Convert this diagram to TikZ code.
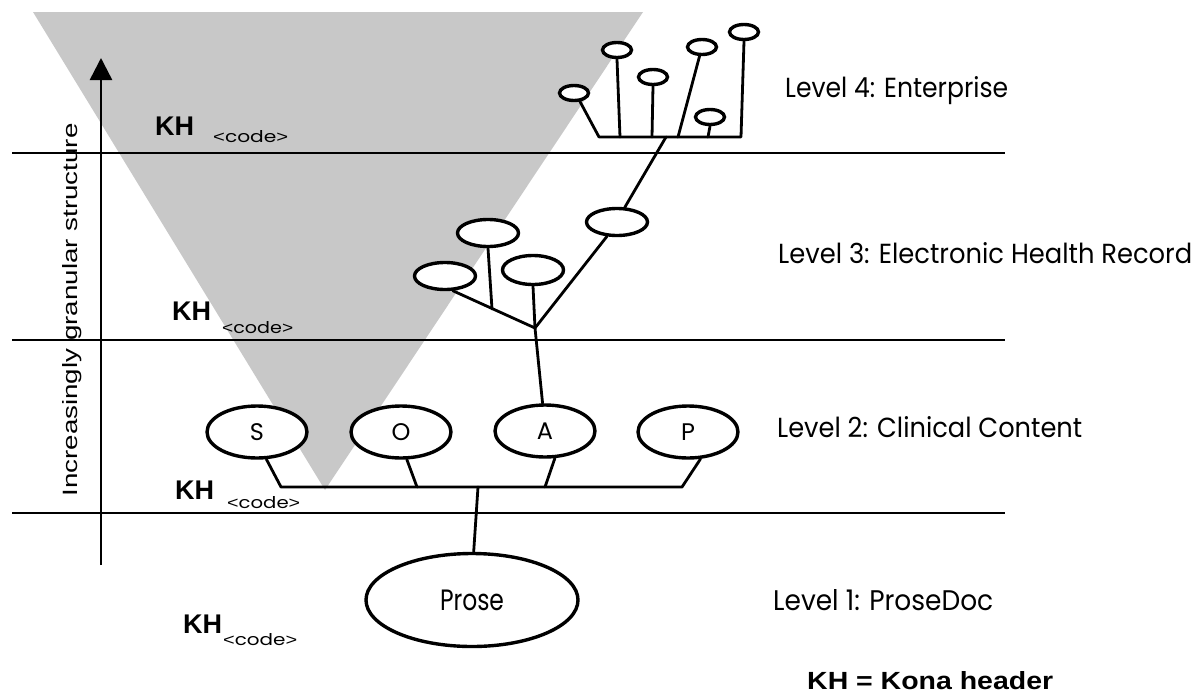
\documentclass[tikz,border=0pt]{standalone}
\usepackage{fontspec}
\setmainfont{Poppins}
\newfontfamily\arialfont{Liberation Sans}
\usetikzlibrary{shapes.geometric,arrows.meta}
\definecolor{trigray}{RGB}{200,200,200}
\newcommand{\fitbox}[3]{\resizebox{#1pt}{#2pt}{#3}}
\newcommand{\codetag}{{\arialfont\textless}code{\arialfont\textgreater}}
\tikzset{
  ellbase/.style={ellipse, draw, fill=white, line width=3.4pt, inner sep=0pt},
  smallell/.style={ellbase, minimum width=29pt, minimum height=15pt},
  midell/.style={ellbase, minimum width=61pt, minimum height=27pt},
  soapell/.style={ellbase, minimum width=100pt, minimum height=52pt, font=\fontsize{24}{24}\selectfont},
  proseell/.style={ellbase, minimum width=212pt, minimum height=93pt},
  conn/.style={line width=2.8pt, line join=round, line cap=round},
  hline/.style={line width=2pt},
  txt/.style={inner sep=0pt, anchor=base west},
  khtxt/.style={inner sep=0pt, anchor=base west, font=\arialfont\bfseries\fontsize{27}{27}\selectfont},
}
\begin{document}
\begin{tikzpicture}[x=1pt,y=-1pt]
\useasboundingbox (0,0) rectangle (1202,696);
% gray funnel
\fill[trigray] (33,12) -- (643,12) -- (325,490) -- cycle;

% level separator lines
\coordinate (h1l) at (12,153); \coordinate (h1r) at (1005,153);
\coordinate (h2l) at (12,340); \coordinate (h2r) at (1005,340);
\coordinate (h3l) at (12,513); \coordinate (h3r) at (1005,513);
\draw[hline] (h1l) -- (h1r);
\draw[hline] (h2l) -- (h2r);
\draw[hline] (h3l) -- (h3r);

% vertical arrow
\coordinate (ab) at (101,565);
\coordinate (at) at (101,58);
\draw[line width=2.5pt, -{Triangle[width=22pt,length=22pt]}] (ab) -- (at);
\node[inner sep=0pt, rotate=90] (axislbl) at (72,310)
  {\fitbox{373}{15}{\arialfont Increasingly granular structure}};

% Level 4 tree
\node[smallell] (q1) at (574,93) {};
\node[smallell] (q2) at (617,50) {};
\node[smallell] (q3) at (653,77) {};
\node[smallell] (q4) at (702,47) {};
\node[smallell] (q5) at (744,32) {};
\node[smallell] (q6) at (710,117) {};
\coordinate (b4l) at (599,137);
\coordinate (b4r) at (741,137);
\coordinate (j42) at (620,137);
\coordinate (j43) at (652,137);
\coordinate (j44) at (678,137);
\coordinate (j46) at (708,137);
\coordinate (j4t) at (666,137);
\draw[conn] (q1.-55) -- (b4l) -- (b4r) -- (q5.south);
\draw[conn] (q2.south) -- (j42);
\draw[conn] (q3.south) -- (j43);
\draw[conn] (q4.255) -- (j44);
\draw[conn] (q6.south) -- (j46);

% Level 3 tree
\node[midell] (r1) at (445,276) {};
\node[midell] (r2) at (488,233) {};
\node[midell, minimum height=29pt] (r3) at (533,270) {};
\node[midell] (r4) at (617,222) {};
\coordinate (j3) at (535,328);
\coordinate (k3) at (492,309);
\draw[conn] (j4t) -- (r4.62);
\draw[conn] (r1.-62) -- (j3);
\draw[conn] (r2.south) -- (k3);
\draw[conn] (r3.south) -- (j3);
\draw[conn] (r4.-125) -- (j3);

% Level 2: SOAP
\node[soapell] (nS) at (257,432) {S};
\node[soapell] (nO) at (401,432) {O};
\node[soapell] (nA) at (545,431) {A};
\node[soapell] (nP) at (688,432) {P};
\draw[conn] (j3) -- (nA.95);
\coordinate (bS) at (281,487);
\coordinate (bO) at (417,487);
\coordinate (bA) at (545,487);
\coordinate (bP) at (682,487);
\coordinate (bT) at (478,487);
\draw[conn] (nS.-71) -- (bS) -- (bP) -- (nP.-65);
\draw[conn] (nO.-78) -- (bO);
\draw[conn] (nA.-70) -- (bA);

% Level 1: Prose
\node[proseell] (prose) at (472,600) {\fitbox{64}{20.5}{Prose}};
\draw[conn] (bT) -- (prose.88);

% level labels
\node[txt] (l4) at (785,97) {\fitbox{223}{21}{Level 4: Enterprise}};
\node[txt] (l3) at (778,263) {\fitbox{414}{21}{Level 3: Electronic Health Record}};
\node[txt] (l2) at (777,437) {\fitbox{305}{21}{Level 2: Clinical Content}};
\node[txt] (l1) at (773,610) {\fitbox{220}{21}{Level 1: ProseDoc}};
\node[txt] (legend) at (807,689) {\fitbox{246}{18}{\arialfont\bfseries KH = Kona header}};

% KH labels
\node[khtxt] (kh1) at (155,135) {KH};
\node[txt] (kc1) at (213,142) {\fitbox{75}{12}{\codetag}};
\node[khtxt] (kh2) at (172,320) {KH};
\node[txt] (kc2) at (222,333) {\fitbox{71}{12}{\codetag}};
\node[khtxt] (kh3) at (175,499) {KH};
\node[txt] (kc3) at (227,508) {\fitbox{73}{12}{\codetag}};
\node[khtxt] (kh4) at (183,633) {KH};
\node[txt] (kc4) at (223,645) {\fitbox{74}{12}{\codetag}};
\end{tikzpicture}
\end{document}
